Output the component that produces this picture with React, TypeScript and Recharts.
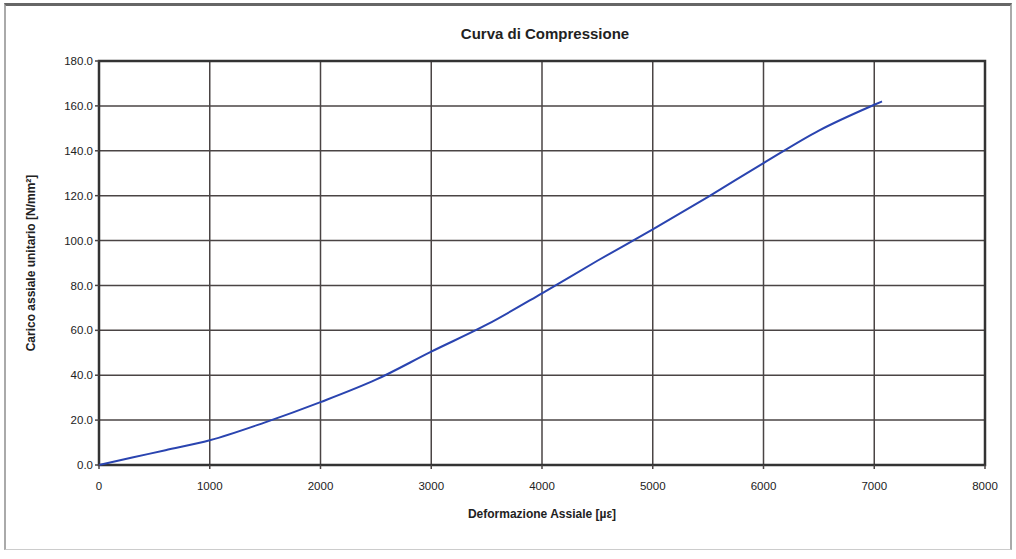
import React from "react"
import { CartesianGrid, Line, LineChart, ReferenceArea, XAxis, YAxis } from "recharts"

// deformazione assiale [µε] e carico unitario [N/mm²]
const deformazione = [0, 300, 600, 1000, 1500, 2000, 2500, 3000, 3500, 4000, 4500, 5000, 5500, 6000, 6500, 7000, 7070]
const carico = [0, 3.3, 6.6, 11, 19, 28, 38, 50.5, 62.5, 76.5, 91, 105, 119.5, 134.5, 149, 160.5, 162]

const xTicks = [0, 1000, 2000, 3000, 4000, 5000, 6000, 7000, 8000]
const yTicks = [0, 20, 40, 60, 80, 100, 120, 140, 160, 180]

const data = deformazione.map((d, i) => ({ d, c: carico[i] }))

const font = "'Liberation Sans', Arial, sans-serif"

export default function App() {
  return (
    <div style={{ position: "absolute", left: 0, top: 0, width: 1016, height: 559, background: "#fff", fontFamily: font }}>
      <div
        style={{
          position: "absolute",
          left: 4,
          top: 3,
          width: 1004,
          height: 543,
          borderTop: "3px solid #666",
          borderLeft: "2px solid #aaa",
          borderRight: "2px solid #aaa",
          borderBottom: "1px solid #ccc",
        }}
      />
      <div
        style={{
          position: "absolute",
          top: 25,
          left: 0,
          width: 1090,
          textAlign: "center",
          fontSize: 15,
          fontWeight: "bold",
          color: "#222",
        }}
      >
        Curva di Compressione
      </div>
      <LineChart
        width={1016}
        height={559}
        data={data}
        margin={{ top: 61, right: 31, left: 39, bottom: 34 }}
        style={{ position: "absolute", left: 0, top: 0 }}
      >
        <CartesianGrid stroke="#4a4444" strokeWidth={1.5} horizontalValues={yTicks} verticalValues={xTicks} />
        <XAxis
          type="number"
          dataKey="d"
          domain={[0, 8000]}
          ticks={xTicks}
          interval={0}
          axisLine={false}
          tickLine={{ stroke: "#4a4444", strokeWidth: 1.5 }}
          tickSize={4}
          tickMargin={13}
          height={60}
          tick={{ fill: "#222", fontSize: 11.5, fontFamily: font }}
          label={{
            value: "Deformazione Assiale [µε]",
            position: "insideBottom",
            offset: 7,
            fill: "#222",
            fontSize: 12,
            fontWeight: "bold",
            fontFamily: font,
          }}
        />
        <YAxis
          type="number"
          dataKey="c"
          domain={[0, 180]}
          ticks={yTicks}
          interval={0}
          axisLine={false}
          tickLine={{ stroke: "#4a4444", strokeWidth: 1.5 }}
          tickSize={4}
          tickMargin={2}
          width={60}
          tickFormatter={(v: number) => v.toFixed(1)}
          tick={{ fill: "#222", fontSize: 11.5, fontFamily: font }}
          label={{
            value: "Carico assiale unitario [N/mm²]",
            angle: -90,
            position: "insideLeft",
            offset: -8,
            style: { textAnchor: "middle" },
            fill: "#222",
            fontSize: 12,
            fontWeight: "bold",
            fontFamily: font,
          }}
        />
        <ReferenceArea x1={0} x2={8000} y1={0} y2={180} fill="none" stroke="#333" strokeWidth={2.5} />
        <Line
          type="monotone"
          dataKey="c"
          stroke="#2a44b0"
          strokeWidth={2}
          dot={false}
          isAnimationActive={false}
        />
      </LineChart>
    </div>
  )
}
